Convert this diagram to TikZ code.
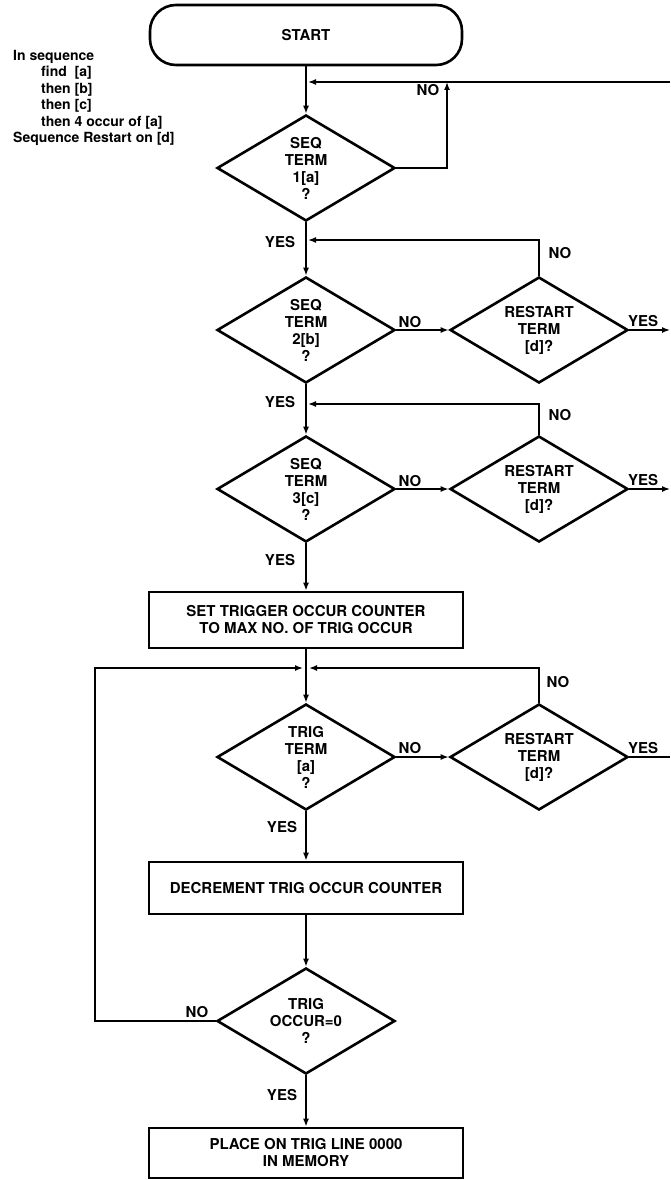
\documentclass[tikz,border=0pt]{standalone}
\usepackage{fontspec}
\setmainfont{TeX Gyre Heros}
\usetikzlibrary{shapes.geometric,arrows.meta}

\begin{document}
\begin{tikzpicture}[
  x=1pt, y=-1pt,
  every node/.style={font=\fontsize{15}{17}\selectfont\bfseries, align=center},
  decision/.style={diamond, draw=black, line width=2.6pt, aspect=1.7,
                   inner sep=0pt, minimum width=178pt, minimum height=106pt},
  procbox/.style={rectangle, draw=black, line width=2.6pt,
                  minimum width=314pt, inner sep=0pt},
  flow/.style={line width=1.5pt, -{Latex[length=8pt,width=6pt]}},
  wire/.style={line width=1.5pt},
  lbl/.style={inner sep=0pt}
]
  \useasboundingbox (0,0) rectangle (670,1180);

  % Start
  \node[procbox, rounded corners=26pt, minimum width=312pt,
        minimum height=60pt] (start) at (306,35) {START};

  % Sequence notes
  \node[anchor=north west, align=left, inner sep=0pt,
        font=\fontsize{14}{16.5}\selectfont\bfseries] (seqnote) at (13,50)
    {In sequence\\
     \hspace*{28pt}find~ [a]\\
     \hspace*{28pt}then [b]\\
     \hspace*{28pt}then [c]\\
     \hspace*{28pt}then 4 occur of [a]\\
     Sequence Restart on [d]};

  % Sequence terms
  \node[decision] (seq1) at (306,168) {SEQ\\TERM\\1[a]\\?};
  \node[decision] (seq2) at (306,330) {SEQ\\TERM\\2[b]\\?};
  \node[decision] (seq3) at (306,489) {SEQ\\TERM\\3[c]\\?};

  % Restart terms
  \node[decision] (rst1) at (539,330) {RESTART\\TERM\\{}[d]?};
  \node[decision] (rst2) at (539,489) {RESTART\\TERM\\{}[d]?};
  \node[decision] (rst3) at (539,757) {RESTART\\TERM\\{}[d]?};

  % Trigger counting
  \node[procbox, minimum height=56pt] (setcnt) at (306,620)
    {SET TRIGGER OCCUR COUNTER\\TO MAX NO. OF TRIG OCCUR};
  \node[decision] (trig1) at (306,757) {TRIG\\TERM\\{}[a]\\?};
  \node[procbox, minimum height=52pt] (deccnt) at (306,888)
    {DECREMENT TRIG OCCUR COUNTER};
  \node[decision] (trig2) at (306,1021) {TRIG\\OCCUR=0\\?};
  \node[procbox, minimum height=50pt] (place) at (306,1153)
    {PLACE ON TRIG LINE 0000\\IN MEMORY};

  % Join points and loose ends
  \coordinate (ret) at (670,82);
  \coordinate (join1) at (306,82);
  \coordinate (no1) at (447,82);
  \coordinate (join2) at (306,240);
  \coordinate (join3) at (306,404);
  \coordinate (join4) at (306,668);
  \coordinate (loop) at (95,668);
  \coordinate (out1) at (670,330);
  \coordinate (out2) at (670,489);
  \coordinate (out3) at (670,757);

  % Main line
  \draw[flow] (start.south) -- (seq1.north);
  \draw[flow] (seq1.south) -- (seq2.north);
  \draw[flow] (seq2.south) -- (seq3.north);
  \draw[flow] (seq3.south) -- (setcnt.north);
  \draw[flow] (setcnt.south) -- (trig1.north);
  \draw[flow] (trig1.south) -- (deccnt.north);
  \draw[flow] (deccnt.south) -- (trig2.north);
  \draw[flow] (trig2.south) -- (place.north);

  % Back loops
  \draw[flow, shorten >=2pt] (ret) -- (join1);
  \draw[flow] (seq1.east) -| (no1);
  \draw[flow, shorten >=2pt] (rst1.north) |- (join2);
  \draw[flow, shorten >=2pt] (rst2.north) |- (join3);
  \draw[flow, shorten >=3pt] (rst3.north) |- (join4);
  \draw[flow, shorten >=3pt] (trig2.west) -| (loop) -- (join4);

  % Over to the restart tests
  \draw[flow] (seq2.east) -- (rst1.west);
  \draw[flow] (seq3.east) -- (rst2.west);
  \draw[flow] (trig1.east) -- (rst3.west);
  \draw[flow] (rst1.east) -- (out1);
  \draw[flow] (rst2.east) -- (out2);
  \draw[wire] (rst3.east) -- (out3);

  % YES / NO labels
  \node[lbl] (no1lbl) at (428,90) {NO};
  \node[lbl] (yes1) at (280,242) {YES};
  \node[lbl] (no2) at (560,253) {NO};
  \node[lbl] (no3) at (410,322) {NO};
  \node[lbl] (yes2) at (643,321) {YES};
  \node[lbl] (yes3) at (280,402) {YES};
  \node[lbl] (no4) at (560,415) {NO};
  \node[lbl] (no5) at (410,481) {NO};
  \node[lbl] (yes4) at (643,480) {YES};
  \node[lbl] (yes5) at (280,560) {YES};
  \node[lbl] (no6) at (558,682) {NO};
  \node[lbl] (no7) at (410,748) {NO};
  \node[lbl] (yes6) at (643,748) {YES};
  \node[lbl] (yes7) at (282,827) {YES};
  \node[lbl] (no8) at (197,1012) {NO};
  \node[lbl] (yes8) at (282,1095) {YES};
\end{tikzpicture}
\end{document}
